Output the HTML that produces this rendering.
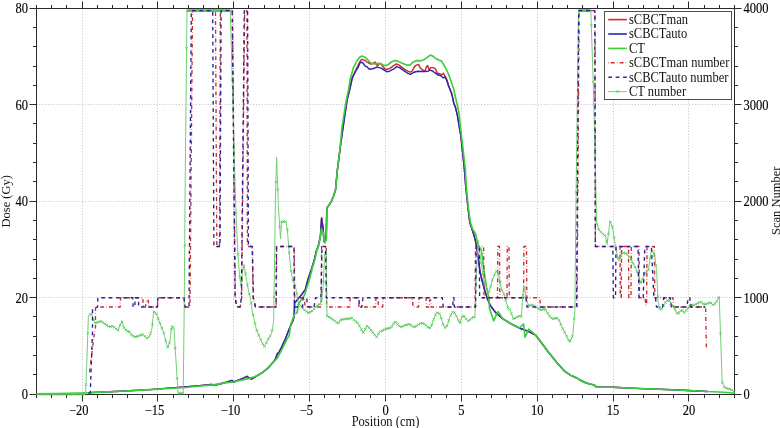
<!DOCTYPE html>
<html><head><meta charset="utf-8"><style>
html,body{margin:0;padding:0;background:#fff;width:780px;height:428px;overflow:hidden}
svg{display:block}
text{font-family:"Liberation Serif",serif;font-size:12.5px;fill:#000;stroke:#000;stroke-width:0.12px}
svg{will-change:transform}
text.lg{stroke-width:0px;fill:#111}
</style></head><body>
<svg width="780" height="428" viewBox="0 0 780 428">
<rect width="780" height="428" fill="#fff"/>
<path d="M82.5,8.5V394.5M157.5,8.5V394.5M233.5,8.5V394.5M309.5,8.5V394.5M385.5,8.5V394.5M461.5,8.5V394.5M537.5,8.5V394.5M613.5,8.5V394.5M688.5,8.5V394.5M36.5,297.5H734.5M36.5,201.5H734.5M36.5,104.5H734.5" stroke="#c2c2c2" stroke-width="1" stroke-dasharray="1 1.85" fill="none"/>
<path d="M36.5,8.5H734.5V394.5H36.5Z" stroke="#2a2a2a" stroke-width="1.0" fill="none"/>
<path d="M36.5,394.5V398.0M36.5,8.5V5.0M51.5,394.5V398.0M51.5,8.5V5.0M66.5,394.5V398.0M66.5,8.5V5.0M82.5,394.5V401.5M82.5,8.5V1.5M97.5,394.5V398.0M97.5,8.5V5.0M112.5,394.5V398.0M112.5,8.5V5.0M127.5,394.5V398.0M127.5,8.5V5.0M142.5,394.5V398.0M142.5,8.5V5.0M157.5,394.5V401.5M157.5,8.5V1.5M173.5,394.5V398.0M173.5,8.5V5.0M188.5,394.5V398.0M188.5,8.5V5.0M203.5,394.5V398.0M203.5,8.5V5.0M218.5,394.5V398.0M218.5,8.5V5.0M233.5,394.5V401.5M233.5,8.5V1.5M248.5,394.5V398.0M248.5,8.5V5.0M264.5,394.5V398.0M264.5,8.5V5.0M279.5,394.5V398.0M279.5,8.5V5.0M294.5,394.5V398.0M294.5,8.5V5.0M309.5,394.5V401.5M309.5,8.5V1.5M324.5,394.5V398.0M324.5,8.5V5.0M339.5,394.5V398.0M339.5,8.5V5.0M355.5,394.5V398.0M355.5,8.5V5.0M370.5,394.5V398.0M370.5,8.5V5.0M385.5,394.5V401.5M385.5,8.5V1.5M400.5,394.5V398.0M400.5,8.5V5.0M415.5,394.5V398.0M415.5,8.5V5.0M431.5,394.5V398.0M431.5,8.5V5.0M446.5,394.5V398.0M446.5,8.5V5.0M461.5,394.5V401.5M461.5,8.5V1.5M476.5,394.5V398.0M476.5,8.5V5.0M491.5,394.5V398.0M491.5,8.5V5.0M506.5,394.5V398.0M506.5,8.5V5.0M522.5,394.5V398.0M522.5,8.5V5.0M537.5,394.5V401.5M537.5,8.5V1.5M552.5,394.5V398.0M552.5,8.5V5.0M567.5,394.5V398.0M567.5,8.5V5.0M582.5,394.5V398.0M582.5,8.5V5.0M597.5,394.5V398.0M597.5,8.5V5.0M613.5,394.5V401.5M613.5,8.5V1.5M628.5,394.5V398.0M628.5,8.5V5.0M643.5,394.5V398.0M643.5,8.5V5.0M658.5,394.5V398.0M658.5,8.5V5.0M673.5,394.5V398.0M673.5,8.5V5.0M688.5,394.5V401.5M688.5,8.5V1.5M704.5,394.5V398.0M704.5,8.5V5.0M719.5,394.5V398.0M719.5,8.5V5.0M734.5,394.5V398.0M734.5,8.5V5.0M36.5,394.5H29.5M734.5,394.5H741.5M36.5,374.5H33.0M734.5,374.5H738.0M36.5,355.5H33.0M734.5,355.5H738.0M36.5,336.5H33.0M734.5,336.5H738.0M36.5,316.5H33.0M734.5,316.5H738.0M36.5,297.5H29.5M734.5,297.5H741.5M36.5,278.5H33.0M734.5,278.5H738.0M36.5,259.5H33.0M734.5,259.5H738.0M36.5,239.5H33.0M734.5,239.5H738.0M36.5,220.5H33.0M734.5,220.5H738.0M36.5,201.5H29.5M734.5,201.5H741.5M36.5,181.5H33.0M734.5,181.5H738.0M36.5,162.5H33.0M734.5,162.5H738.0M36.5,143.5H33.0M734.5,143.5H738.0M36.5,123.5H33.0M734.5,123.5H738.0M36.5,104.5H29.5M734.5,104.5H741.5M36.5,85.5H33.0M734.5,85.5H738.0M36.5,66.5H33.0M734.5,66.5H738.0M36.5,46.5H33.0M734.5,46.5H738.0M36.5,27.5H33.0M734.5,27.5H738.0M36.5,8.5H29.5M734.5,8.5H741.5" stroke="#2a2a2a" stroke-width="1" fill="none"/>
<g fill="none" stroke-linejoin="round" stroke-linecap="butt">
<polyline points="88.0,392.7 90.0,392.6 120.0,391.2 150.0,389.6 190.5,386.4 199.5,385.6 211.1,384.4 215.6,385.0 226.4,382.2 231.8,380.4 233.6,382.0 243.5,378.1 247.0,376.3 248.8,377.7 251.5,379.2 256.0,376.3 262.3,372.7 268.4,367.6 275.1,360.0 277.4,353.6 278.8,352.7 281.6,347.1 285.4,338.7 289.1,329.3 291.9,322.8 293.3,320.0 294.3,313.0 294.6,303.1 297.7,299.3 301.6,294.6 305.4,289.3 307.8,280.0 311.7,268.5 314.8,258.2 316.2,251.4 318.5,245.3 320.5,235.3 321.6,218.0 323.2,229.0 323.9,241.4 325.1,242.6 326.2,237.6 326.8,208.0 328.8,205.4 331.4,201.3 333.5,196.2 335.5,190.0 337.3,170.6 339.9,150.0 343.3,125.7 347.1,100.0 349.8,89.0 352.3,77.9 355.4,70.7 358.5,64.5 360.6,60.4 362.1,59.4 364.7,60.4 367.8,62.5 370.8,64.0 372.9,63.5 375.0,62.0 376.0,64.0 377.5,66.1 379.1,63.5 381.1,64.0 383.2,67.1 385.2,69.2 387.8,69.2 390.4,68.1 393.5,65.6 396.6,64.0 399.1,65.1 401.7,67.1 405.8,70.2 409.9,72.2 412.1,71.2 414.1,67.1 416.2,65.1 418.7,64.5 420.3,68.1 422.3,69.7 424.9,71.2 426.5,66.6 427.7,65.6 429.0,69.7 431.1,67.6 433.7,67.6 435.7,69.2 437.2,73.3 439.8,73.8 441.9,74.8 443.4,73.3 445.0,75.8 447.0,80.0 448.3,85.0 451.9,94.3 453.9,103.5 455.5,107.6 457.5,115.8 459.6,129.0 460.8,135.3 462.4,150.7 464.0,165.0 465.7,185.6 467.8,206.1 469.8,222.6 471.9,228.8 473.9,234.9 476.0,243.1 477.1,250.6 478.7,260.8 480.0,272.0 483.0,284.0 485.5,293.0 487.5,299.0 490.6,306.0 495.7,312.6 502.9,318.8 511.1,323.9 519.4,328.0 527.6,331.1 535.8,335.2 542.0,343.5 548.1,351.7 556.4,362.0 564.6,371.2 570.8,375.3 576.9,378.0 580.0,380.0 586.2,383.0 594.4,385.1 596.5,387.1 612.9,387.3 641.7,388.6 672.5,389.8 703.4,391.2 707.4,391.5" stroke="#d42a2a" stroke-width="1.45"/>
<polyline points="88.0,392.7 90.0,392.6 120.0,391.2 150.0,389.6 190.5,386.4 199.5,385.6 211.1,384.4 215.6,385.0 226.4,382.2 231.8,380.4 233.6,382.0 243.5,378.1 247.0,376.3 248.8,377.7 251.5,379.2 256.0,376.3 262.3,372.7 268.4,367.6 275.1,360.0 277.4,353.6 278.8,352.7 281.6,347.1 285.4,338.7 289.1,329.3 291.9,322.8 293.3,320.0 294.3,313.0 294.6,303.1 297.7,299.3 301.6,294.6 305.4,289.3 307.8,280.0 311.7,268.5 314.8,258.2 316.2,251.4 318.5,245.3 320.5,235.3 321.6,218.0 323.2,229.0 323.9,241.4 325.1,242.6 326.2,237.6 326.8,208.0 328.8,205.4 331.4,201.3 333.5,196.2 335.5,190.0 337.3,170.6 339.9,150.0 343.3,125.7 347.1,100.0 349.8,89.0 352.3,77.9 355.4,71.7 358.0,67.6 360.1,62.5 362.1,62.3 363.7,64.0 365.2,66.1 366.7,66.6 369.3,69.2 372.9,68.7 377.0,67.1 381.1,68.1 384.2,70.2 386.8,71.7 389.4,71.2 393.5,69.2 396.6,66.6 399.6,67.6 403.8,70.7 407.9,73.3 410.4,74.3 414.0,72.2 418.1,71.2 420.3,71.5 424.4,71.5 428.0,71.2 430.1,70.2 432.6,71.2 435.7,73.3 437.8,74.8 440.8,75.8 443.4,77.9 445.0,76.9 447.0,81.0 448.3,85.0 451.9,94.3 453.9,103.5 455.5,107.6 457.5,115.8 459.6,129.0 460.8,135.3 462.4,150.7 464.0,165.0 465.7,185.6 467.8,206.1 469.8,222.6 471.9,228.8 473.9,234.9 476.0,243.1 477.1,250.6 478.7,260.8 480.0,272.0 483.0,284.0 485.5,293.0 487.5,299.0 490.6,306.0 495.7,312.6 502.9,318.8 511.1,323.9 519.4,328.0 527.6,331.1 535.8,335.2 542.0,343.5 548.1,351.7 556.4,362.0 564.6,371.2 570.8,375.3 576.9,378.0 580.0,380.0 586.2,383.0 594.4,385.1 596.5,387.1 612.9,387.3 641.7,388.6 672.5,389.8 703.4,391.2 707.4,391.5" stroke="#2828b0" stroke-width="1.45"/>
<polyline points="36.5,393.9 60.0,393.5 88.0,392.7 90.0,392.6 120.0,391.2 150.0,389.6 186.0,387.5 195.0,386.5 213.0,384.9 226.4,382.6 232.7,382.2 239.9,380.4 248.8,378.6 256.0,376.3 262.3,372.7 268.4,367.6 273.0,362.5 277.0,358.5 280.7,351.8 284.4,344.3 287.2,338.7 289.1,335.9 290.0,330.3 290.5,324.7 291.9,321.4 294.5,314.0 297.0,313.0 298.5,303.9 301.6,299.3 304.7,294.6 309.3,280.0 312.2,268.5 315.2,258.2 316.6,251.4 318.8,245.3 320.5,236.0 321.3,229.0 323.3,233.0 324.1,241.4 325.2,242.6 326.4,237.6 327.1,208.0 328.8,205.4 331.4,201.3 333.5,196.2 335.5,190.0 337.3,170.6 339.9,150.0 341.9,128.0 346.0,101.7 348.7,89.0 350.3,78.9 353.4,67.6 356.5,61.5 359.5,57.3 362.1,56.1 364.7,57.1 367.8,59.9 370.8,63.0 373.9,64.0 377.0,63.3 380.1,63.5 383.2,65.1 385.2,65.6 388.3,64.5 391.4,62.0 395.0,60.4 398.6,61.5 402.7,63.5 406.8,65.1 409.9,65.1 413.1,62.0 417.2,60.4 420.3,60.9 424.4,59.4 428.0,56.8 430.6,55.1 433.1,56.3 435.7,58.4 438.8,59.9 441.4,60.9 443.9,65.1 446.5,69.7 449.1,75.8 451.6,83.0 453.7,89.0 455.0,95.3 457.0,103.5 459.1,113.8 460.6,129.0 462.0,140.0 463.2,150.7 465.3,169.0 466.2,185.6 468.2,206.0 470.3,222.0 472.5,229.0 475.6,234.0 478.0,245.0 481.3,250.0 483.6,267.5 486.5,287.4 488.9,297.9 489.5,308.5 493.7,320.8 497.8,311.6 502.9,318.8 511.1,323.9 519.4,328.0 523.5,324.0 525.1,337.3 528.6,329.1 535.8,335.2 542.0,343.5 548.1,351.7 556.4,362.0 564.6,371.2 570.8,375.3 576.9,378.0 580.0,380.0 586.2,383.0 594.4,385.1 596.5,387.1 612.9,387.3 641.7,388.6 672.5,389.8 703.4,391.2 707.4,391.5 724.0,392.3 734.5,393.3" stroke="#3cce3c" stroke-width="1.65"/>
<polyline points="89.5,372.3 94.2,334.6 95.5,328.0 95.5,307.0 120.2,307.0 120.5,297.7 142.6,297.7 143.6,307.0 145.5,307.0 146.0,300.5 148.3,300.5 148.8,307.0 157.5,307.0 157.8,297.7 184.0,297.7 185.0,307.0 190.0,307.0 192.5,10.6 215.5,10.6 216.8,246.5 219.5,246.5 220.3,10.6 232.4,10.6 235.3,298.0 237.0,307.0 240.2,307.0 241.6,298.0 244.6,10.6 246.9,10.6 247.4,246.5 252.2,246.5 253.2,298.0 255.4,307.0 276.2,307.0 276.7,246.5 294.2,246.5 294.7,297.7 304.5,297.7 305.0,307.0 321.3,307.0 321.6,246.5 326.2,246.5 326.6,307.0 349.8,307.0 350.1,297.7 358.5,297.7 359.0,307.0 375.5,307.0 376.0,297.7 378.0,297.7 378.5,307.0 382.7,307.0 383.2,297.7 412.5,297.7 413.0,307.0 418.5,307.0 419.0,297.7 426.0,297.7 426.5,307.0 429.0,307.0 429.6,300.0 430.6,300.0 431.2,307.0 442.0,307.0 475.0,307.0 475.5,246.5 483.6,246.5 484.0,297.7 497.5,297.7 497.8,246.5 499.5,246.5 499.8,297.7 507.0,297.7 507.3,246.5 509.0,246.5 509.3,297.7 523.6,297.7 523.9,246.5 526.5,246.5 526.8,297.7 540.0,297.7 540.3,307.0 577.0,307.0 579.2,10.6 595.0,10.6 595.4,246.5 620.0,246.5 620.3,297.7 621.3,297.7 621.6,246.5 628.5,246.5 628.8,297.7 631.0,297.7 631.3,246.5 639.0,246.5 639.5,297.7 645.2,297.7 645.6,305.0 646.6,305.0 647.0,246.5 654.3,246.5 654.8,297.7 662.7,297.7 663.2,297.7 673.0,297.7 673.5,307.0 705.6,307.0 706.4,349.0" stroke="#c62c34" stroke-width="1.35" stroke-dasharray="3.9 2.2 0.5 2.2"/>
<path d="M186.5,10.6H230.4M578.5,10.6H590.8" stroke="#3cce3c" stroke-width="2.6"/>
<polyline points="36.5,394.2 85.5,394.2 86.8,362.8 88.4,315.7 91.1,313.1 94.7,322.9 97.0,322.6 100.7,321.1 104.8,323.7 108.9,326.7 113.0,326.2 116.1,328.8 118.2,330.3 120.2,324.7 122.3,321.1 123.3,326.7 126.4,330.8 129.5,331.9 132.0,335.5 135.6,337.0 139.8,335.5 142.8,334.4 147.0,338.6 150.0,335.0 152.1,327.8 153.6,311.3 155.2,312.3 156.5,314.1 159.6,322.3 163.7,332.6 165.7,340.8 167.8,348.0 169.8,341.9 171.9,325.4 174.0,328.5 175.0,345.0 177.0,376.8 178.1,393.3 183.2,393.3 184.2,310.0 185.2,180.6 187.0,10.6 230.3,10.6 234.7,170.7 236.0,213.0 237.9,254.0 239.5,275.0 241.0,285.7 242.5,272.0 244.0,264.6 246.6,280.5 248.7,291.8 250.7,299.0 252.0,310.0 256.1,328.5 260.2,338.8 264.3,347.0 268.4,338.8 271.5,333.7 273.6,322.3 274.4,272.0 275.4,200.0 276.6,157.2 278.4,205.8 279.7,227.0 280.5,239.0 281.6,221.7 285.8,221.7 287.4,230.0 288.8,248.0 290.6,268.5 292.9,280.5 295.4,286.0 298.5,303.1 301.6,307.0 305.4,310.8 308.5,313.0 312.4,310.8 316.2,306.2 320.1,303.9 321.6,299.3 323.2,286.2 324.5,255.0 326.0,252.0 327.0,315.8 330.3,317.9 334.4,320.5 338.0,323.6 340.6,320.0 344.7,318.9 348.8,318.9 351.9,317.9 355.0,321.0 358.0,323.0 360.1,327.2 363.2,332.9 367.3,325.7 371.4,330.8 376.6,337.0 379.6,331.9 385.8,328.8 391.0,327.8 395.0,321.5 398.1,325.1 401.2,327.2 405.3,325.1 409.4,324.1 413.5,327.2 416.6,326.1 419.7,323.6 422.8,323.0 425.8,325.1 428.9,328.2 431.0,327.2 433.0,321.0 436.1,313.3 438.2,312.2 440.2,314.8 441.8,320.0 443.3,325.1 445.4,328.2 447.4,325.1 449.5,317.9 451.6,313.3 453.6,311.2 455.7,314.8 457.7,318.9 459.8,323.6 461.8,316.9 463.9,315.8 466.0,318.9 468.0,321.0 471.1,318.9 473.1,316.9 475.0,317.9 475.8,290.0 477.0,260.0 478.1,240.3 481.0,262.0 484.0,280.0 487.0,290.0 489.0,292.0 490.0,288.6 493.0,278.0 495.9,271.6 497.6,271.0 499.4,279.2 501.7,289.7 504.0,294.4 506.2,301.7 508.0,308.5 510.3,310.0 513.2,318.8 515.4,318.1 519.4,315.7 521.4,316.7 522.5,300.0 523.7,286.3 524.9,287.5 525.7,298.6 528.8,305.8 532.9,304.8 537.0,307.9 541.1,310.0 545.2,308.9 549.4,316.1 552.3,318.8 557.6,318.1 559.6,321.2 561.5,326.0 565.6,334.2 569.7,342.4 572.8,335.2 574.9,310.6 575.1,286.3 576.0,200.0 577.0,122.3 578.5,10.6 590.8,10.6 593.1,78.0 595.0,150.0 596.6,223.0 599.1,230.2 603.2,234.3 605.5,236.0 607.1,244.5 610.0,221.0 612.4,227.1 614.5,240.0 615.4,246.5 618.5,260.8 622.6,252.6 626.7,253.6 630.8,258.8 636.0,269.1 641.1,283.5 644.2,274.2 648.3,270.1 651.4,250.6 654.5,253.6 656.6,271.1 658.1,302.3 660.4,310.4 662.7,307.0 666.2,301.2 668.5,300.0 671.3,303.5 674.2,308.1 677.7,314.4 681.2,309.8 684.6,312.7 688.1,308.1 690.4,304.6 693.8,305.2 697.3,303.5 700.8,301.7 704.2,304.6 707.7,303.5 710.0,302.3 713.5,305.2 716.9,301.2 719.2,296.5 722.2,382.0 724.5,387.3 728.1,388.6 732.2,390.2 734.5,392.3" stroke="#6ccc6c" stroke-width="0.95"/>
<path d="M37.1,392.9L39.7,395.5M37.1,395.5L39.7,392.9M39.0,392.9L41.6,395.5M39.0,395.5L41.6,392.9M40.9,392.9L43.5,395.5M40.9,395.5L43.5,392.9M42.8,392.9L45.4,395.5M42.8,395.5L45.4,392.9M44.7,392.9L47.3,395.5M44.7,395.5L47.3,392.9M46.6,392.9L49.2,395.5M46.6,395.5L49.2,392.9M48.5,392.9L51.1,395.5M48.5,395.5L51.1,392.9M50.4,392.9L53.0,395.5M50.4,395.5L53.0,392.9M52.3,392.9L54.9,395.5M52.3,395.5L54.9,392.9M54.2,392.9L56.8,395.5M54.2,395.5L56.8,392.9M56.1,392.9L58.7,395.5M56.1,395.5L58.7,392.9M58.0,392.9L60.6,395.5M58.0,395.5L60.6,392.9M59.9,392.9L62.5,395.5M59.9,395.5L62.5,392.9M61.8,392.9L64.4,395.5M61.8,395.5L64.4,392.9M63.7,392.9L66.3,395.5M63.7,395.5L66.3,392.9M65.6,392.9L68.2,395.5M65.6,395.5L68.2,392.9M67.5,392.9L70.1,395.5M67.5,395.5L70.1,392.9M69.4,392.9L72.0,395.5M69.4,395.5L72.0,392.9M71.3,392.9L73.9,395.5M71.3,395.5L73.9,392.9M73.2,392.9L75.8,395.5M73.2,395.5L75.8,392.9M75.1,392.9L77.7,395.5M75.1,395.5L77.7,392.9M77.0,392.9L79.6,395.5M77.0,395.5L79.6,392.9M78.9,392.9L81.5,395.5M78.9,395.5L81.5,392.9M80.8,392.9L83.4,395.5M80.8,395.5L83.4,392.9M82.7,392.9L85.3,395.5M82.7,395.5L85.3,392.9M84.6,383.2L87.2,385.8M84.6,385.8L87.2,383.2M86.5,332.1L89.1,334.7M86.5,334.7L89.1,332.1M88.4,313.1L91.0,315.7M88.4,315.7L91.0,313.1M90.3,313.2L92.9,315.8M90.3,315.8L92.9,313.2M92.2,318.3L94.8,320.9M92.2,320.9L94.8,318.3M94.1,321.5L96.7,324.1M94.1,324.1L96.7,321.5M96.0,321.2L98.6,323.8M96.0,323.8L98.6,321.2M97.9,320.4L100.5,323.0M97.9,323.0L100.5,320.4M99.8,320.1L102.4,322.7M99.8,322.7L102.4,320.1M101.7,321.3L104.3,323.9M101.7,323.9L104.3,321.3M103.6,322.5L106.2,325.1M103.6,325.1L106.2,322.5M105.5,323.9L108.1,326.5M105.5,326.5L108.1,323.9M107.4,325.3L110.0,327.9M107.4,327.9L110.0,325.3M109.3,325.2L111.9,327.8M109.3,327.8L111.9,325.2M111.2,325.0L113.8,327.6M111.2,327.6L113.8,325.0M113.1,326.1L115.7,328.7M113.1,328.7L115.7,326.1M115.0,327.6L117.6,330.2M115.0,330.2L117.6,327.6M116.9,329.0L119.5,331.6M116.9,331.6L119.5,329.0M118.8,323.7L121.4,326.3M118.8,326.3L121.4,323.7M120.7,320.3L123.3,322.9M120.7,322.9L123.3,320.3M122.6,326.2L125.2,328.8M122.6,328.8L125.2,326.2M124.5,328.7L127.1,331.3M124.5,331.3L127.1,328.7M126.4,330.0L129.0,332.6M126.4,332.6L129.0,330.0M128.3,330.7L130.9,333.3M128.3,333.3L130.9,330.7M130.2,333.5L132.8,336.1M130.2,336.1L132.8,333.5M132.1,334.8L134.7,337.4M132.1,337.4L134.7,334.8M134.0,335.6L136.6,338.2M134.0,338.2L136.6,335.6M135.9,335.1L138.5,337.7M135.9,337.7L138.5,335.1M137.8,334.4L140.4,337.0M137.8,337.0L140.4,334.4M139.7,333.8L142.3,336.4M139.7,336.4L142.3,333.8M141.6,333.2L144.2,335.8M141.6,335.8L144.2,333.2M143.5,335.1L146.1,337.7M143.5,337.7L146.1,335.1M145.4,337.0L148.0,339.6M145.4,339.6L148.0,337.0M147.3,335.4L149.9,338.0M147.3,338.0L149.9,335.4M149.2,332.0L151.8,334.6M149.2,334.6L151.8,332.0M151.1,323.2L153.7,325.8M151.1,325.8L153.7,323.2M153.0,310.4L155.6,313.0M153.0,313.0L155.6,310.4M154.9,312.4L157.5,315.0M154.9,315.0L157.5,312.4M156.8,317.0L159.4,319.6M156.8,319.6L159.4,317.0M158.7,322.0L161.3,324.6M158.7,324.6L161.3,322.0M160.6,326.8L163.2,329.4M160.6,329.4L163.2,326.8M162.5,331.7L165.1,334.3M162.5,334.3L165.1,331.7M164.4,339.5L167.0,342.1M164.4,342.1L167.0,339.5M166.3,346.0L168.9,348.6M166.3,348.6L168.9,346.0M168.2,341.5L170.8,344.1M168.2,344.1L170.8,341.5M170.1,328.0L172.7,330.6M170.1,330.6L172.7,328.0M172.0,326.2L174.6,328.8M172.0,328.8L174.6,326.2M173.9,346.9L176.5,349.5M173.9,349.5L176.5,346.9M175.8,377.0L178.4,379.6M175.8,379.6L178.4,377.0M177.7,392.0L180.3,394.6M177.7,394.6L180.3,392.0M179.6,392.0L182.2,394.6M179.6,394.6L182.2,392.0M181.5,392.0L184.1,394.6M181.5,394.6L184.1,392.0M183.4,244.0L186.0,246.6M183.4,246.6L186.0,244.0M185.3,47.1L187.9,49.7M185.3,49.7L187.9,47.1M187.2,9.3L189.8,11.9M187.2,11.9L189.8,9.3M189.1,9.3L191.7,11.9M189.1,11.9L191.7,9.3M191.0,9.3L193.6,11.9M191.0,11.9L193.6,9.3M192.9,9.3L195.5,11.9M192.9,11.9L195.5,9.3M194.8,9.3L197.4,11.9M194.8,11.9L197.4,9.3M196.7,9.3L199.3,11.9M196.7,11.9L199.3,9.3M198.6,9.3L201.2,11.9M198.6,11.9L201.2,9.3M200.5,9.3L203.1,11.9M200.5,11.9L203.1,9.3M202.4,9.3L205.0,11.9M202.4,11.9L205.0,9.3M204.3,9.3L206.9,11.9M204.3,11.9L206.9,9.3M206.2,9.3L208.8,11.9M206.2,11.9L208.8,9.3M208.1,9.3L210.7,11.9M208.1,11.9L210.7,9.3M210.0,9.3L212.6,11.9M210.0,11.9L212.6,9.3M211.9,9.3L214.5,11.9M211.9,11.9L214.5,9.3M213.8,9.3L216.4,11.9M213.8,11.9L216.4,9.3M215.7,9.3L218.3,11.9M215.7,11.9L218.3,9.3M217.6,9.3L220.2,11.9M217.6,11.9L220.2,9.3M219.5,9.3L222.1,11.9M219.5,11.9L222.1,9.3M221.4,9.3L224.0,11.9M221.4,11.9L224.0,9.3M223.3,9.3L225.9,11.9M223.3,11.9L225.9,9.3M225.2,9.3L227.8,11.9M225.2,11.9L227.8,9.3M227.1,9.3L229.7,11.9M227.1,11.9L229.7,9.3M229.0,9.3L231.6,11.9M229.0,11.9L231.6,9.3M230.9,78.4L233.5,81.0M230.9,81.0L233.5,78.4M232.8,147.6L235.4,150.2M232.8,150.2L235.4,147.6M234.7,211.7L237.3,214.3M234.7,214.3L237.3,211.7M236.6,252.7L239.2,255.3M236.6,255.3L239.2,252.7M238.5,275.8L241.1,278.4M238.5,278.4L241.1,275.8M240.4,278.0L243.0,280.6M240.4,280.6L243.0,278.0M242.3,265.3L244.9,267.9M242.3,267.9L244.9,265.3M244.2,272.5L246.8,275.1M244.2,275.1L246.8,272.5M246.1,283.5L248.7,286.1M246.1,286.1L248.7,283.5M248.0,292.7L250.6,295.3M248.0,295.3L250.6,292.7M249.9,301.9L252.5,304.5M249.9,304.5L252.5,301.9M251.8,313.7L254.4,316.3M251.8,316.3L254.4,313.7M253.7,322.2L256.3,324.8M253.7,324.8L256.3,322.2M255.6,329.2L258.2,331.8M255.6,331.8L258.2,329.2M257.5,334.0L260.1,336.6M257.5,336.6L260.1,334.0M259.4,338.5L262.0,341.1M259.4,341.1L262.0,338.5M261.3,342.3L263.9,344.9M261.3,344.9L263.9,342.3M263.2,345.3L265.8,347.9M263.2,347.9L265.8,345.3M265.1,341.5L267.7,344.1M265.1,344.1L267.7,341.5M267.0,337.7L269.6,340.3M267.0,340.3L269.6,337.7M268.9,334.5L271.5,337.1M268.9,337.1L271.5,334.5M270.8,329.1L273.4,331.7M270.8,331.7L273.4,329.1M272.7,295.8L275.3,298.4M272.7,298.4L275.3,295.8M274.6,180.9L277.2,183.5M274.6,183.5L277.2,180.9M276.5,188.3L279.1,190.9M276.5,190.9L279.1,188.3M278.4,225.7L281.0,228.3M278.4,228.3L281.0,225.7M280.3,220.4L282.9,223.0M280.3,223.0L282.9,220.4M282.2,220.4L284.8,223.0M282.2,223.0L284.8,220.4M284.1,220.4L286.7,223.0M284.1,223.0L286.7,220.4M286.0,228.2L288.6,230.8M286.0,230.8L288.6,228.2M287.9,251.3L290.5,253.9M287.9,253.9L290.5,251.3M289.8,269.8L292.4,272.4M289.8,272.4L292.4,269.8M291.7,279.4L294.3,282.0M291.7,282.0L294.3,279.4M293.6,283.6L296.2,286.2M293.6,286.2L296.2,283.6M295.5,292.4L298.1,295.0M295.5,295.0L298.1,292.4M297.4,302.1L300.0,304.7M297.4,304.7L300.0,302.1M299.3,304.4L301.9,307.0M299.3,307.0L301.9,304.4M301.2,306.6L303.8,309.2M301.2,309.2L303.8,306.6M303.1,308.5L305.7,311.1M303.1,311.1L305.7,308.5M305.0,310.1L307.6,312.7M305.0,312.7L307.6,310.1M306.9,311.5L309.5,314.1M306.9,314.1L309.5,311.5M308.8,310.8L311.4,313.4M308.8,313.4L311.4,310.8M310.7,309.7L313.3,312.3M310.7,312.3L313.3,309.7M312.6,307.7L315.2,310.3M312.6,310.3L315.2,307.7M314.5,305.4L317.1,308.0M314.5,308.0L317.1,305.4M316.4,304.0L319.0,306.6M316.4,306.6L319.0,304.0M318.3,302.9L320.9,305.5M318.3,305.5L320.9,302.9M320.2,298.3L322.8,300.9M320.2,300.9L322.8,298.3M322.1,280.1L324.7,282.7M322.1,282.7L324.7,280.1M324.0,252.1L326.6,254.7M324.0,254.7L326.6,252.1M325.9,314.6L328.5,317.2M325.9,317.2L328.5,314.6M327.8,315.8L330.4,318.4M327.8,318.4L330.4,315.8M329.7,317.0L332.3,319.6M329.7,319.6L332.3,317.0M331.6,318.2L334.2,320.8M331.6,320.8L334.2,318.2M333.5,319.5L336.1,322.1M333.5,322.1L336.1,319.5M335.4,321.2L338.0,323.8M335.4,323.8L338.0,321.2M337.3,321.5L339.9,324.1M337.3,324.1L339.9,321.5M339.2,318.8L341.8,321.4M339.2,321.4L341.8,318.8M341.1,318.2L343.7,320.8M341.1,320.8L343.7,318.2M343.0,317.7L345.6,320.3M343.0,320.3L345.6,317.7M344.9,317.6L347.5,320.2M344.9,320.2L347.5,317.6M346.8,317.6L349.4,320.2M346.8,320.2L349.4,317.6M348.7,317.2L351.3,319.8M348.7,319.8L351.3,317.2M350.6,316.6L353.2,319.2M350.6,319.2L353.2,316.6M352.5,318.5L355.1,321.1M352.5,321.1L355.1,318.5M354.4,320.2L357.0,322.8M354.4,322.8L357.0,320.2M356.3,321.4L358.9,324.0M356.3,324.0L358.9,321.4M358.2,324.7L360.8,327.3M358.2,327.3L360.8,324.7M360.1,328.3L362.7,330.9M360.1,330.9L362.7,328.3M362.0,331.4L364.6,334.0M362.0,334.0L364.6,331.4M363.9,328.1L366.5,330.7M363.9,330.7L366.5,328.1M365.8,324.8L368.4,327.4M365.8,327.4L368.4,324.8M367.7,326.5L370.3,329.1M367.7,329.1L370.3,326.5M369.6,328.9L372.2,331.5M369.6,331.5L372.2,328.9M371.5,331.2L374.1,333.8M371.5,333.8L374.1,331.2M373.4,333.4L376.0,336.0M373.4,336.0L376.0,333.4M375.3,335.7L377.9,338.3M375.3,338.3L377.9,335.7M377.2,332.5L379.8,335.1M377.2,335.1L379.8,332.5M379.1,330.2L381.7,332.8M379.1,332.8L381.7,330.2M381.0,329.3L383.6,331.9M381.0,331.9L383.6,329.3M382.9,328.3L385.5,330.9M382.9,330.9L385.5,328.3M384.8,327.4L387.4,330.0M384.8,330.0L387.4,327.4M386.7,327.1L389.3,329.7M386.7,329.7L389.3,327.1M388.6,326.7L391.2,329.3M388.6,329.3L391.2,326.7M390.5,325.2L393.1,327.8M390.5,327.8L393.1,325.2M392.4,322.2L395.0,324.8M392.4,324.8L395.0,322.2M394.3,320.9L396.9,323.5M394.3,323.5L396.9,320.9M396.2,323.1L398.8,325.7M396.2,325.7L398.8,323.1M398.1,324.7L400.7,327.3M398.1,327.3L400.7,324.7M400.0,325.8L402.6,328.4M400.0,328.4L402.6,325.8M401.9,324.9L404.5,327.5M401.9,327.5L404.5,324.9M403.8,323.9L406.4,326.5M403.8,326.5L406.4,323.9M405.7,323.4L408.3,326.0M405.7,326.0L408.3,323.4M407.6,322.9L410.2,325.5M407.6,325.5L410.2,322.9M409.5,323.9L412.1,326.5M409.5,326.5L412.1,323.9M411.4,325.3L414.0,327.9M411.4,327.9L414.0,325.3M413.3,325.5L415.9,328.1M413.3,328.1L415.9,325.5M415.2,324.8L417.8,327.4M415.2,327.4L417.8,324.8M417.1,323.3L419.7,325.9M417.1,325.9L419.7,323.3M419.0,322.2L421.6,324.8M419.0,324.8L421.6,322.2M420.9,321.8L423.5,324.4M420.9,324.4L423.5,321.8M422.8,322.6L425.4,325.2M422.8,325.2L425.4,322.6M424.7,324.0L427.3,326.6M424.7,326.6L427.3,324.0M426.6,325.9L429.2,328.5M426.6,328.5L429.2,325.9M428.5,326.5L431.1,329.1M428.5,329.1L431.1,326.5M430.4,323.7L433.0,326.3M430.4,326.3L433.0,323.7M432.3,318.2L434.9,320.8M432.3,320.8L434.9,318.2M434.2,313.5L436.8,316.1M434.2,316.1L436.8,313.5M436.1,311.3L438.7,313.9M436.1,313.9L438.7,311.3M438.0,312.3L440.6,314.9M438.0,314.9L440.6,312.3M439.9,316.7L442.5,319.3M439.9,319.3L442.5,316.7M441.8,323.1L444.4,325.7M441.8,325.7L444.4,323.1M443.7,326.3L446.3,328.9M443.7,328.9L446.3,326.3M445.6,324.6L448.2,327.2M445.6,327.2L448.2,324.6M447.5,319.0L450.1,321.6M447.5,321.6L450.1,319.0M449.4,314.0L452.0,316.6M449.4,316.6L452.0,314.0M451.3,311.0L453.9,313.6M451.3,313.6L453.9,311.0M453.2,311.4L455.8,314.0M453.2,314.0L455.8,311.4M455.1,314.9L457.7,317.5M455.1,317.5L457.7,314.9M457.0,318.9L459.6,321.5M457.0,321.5L459.6,318.9M458.9,321.0L461.5,323.6M458.9,323.6L461.5,321.0M460.8,315.4L463.4,318.0M460.8,318.0L463.4,315.4M462.7,314.6L465.3,317.2M462.7,317.2L465.3,314.6M464.6,317.5L467.2,320.1M464.6,320.1L467.2,317.5M466.5,319.5L469.1,322.1M466.5,322.1L469.1,319.5M468.4,318.5L471.0,321.1M468.4,321.1L471.0,318.5M470.3,317.1L472.9,319.7M470.3,319.7L472.9,317.1M472.2,315.8L474.8,318.4M472.2,318.4L474.8,315.8M474.1,302.7L476.7,305.3M474.1,305.3L476.7,302.7M476.0,253.3L478.6,255.9M476.0,255.9L478.6,253.3M477.9,247.2L480.5,249.8M477.9,249.8L480.5,247.2M479.8,261.3L482.4,263.9M479.8,263.9L482.4,261.3M481.7,272.7L484.3,275.3M481.7,275.3L484.3,272.7M483.6,281.7L486.2,284.3M483.6,284.3L486.2,281.7M485.5,288.0L488.1,290.6M485.5,290.6L488.1,288.0M487.4,290.4L490.0,293.0M487.4,293.0L490.0,290.4M489.3,285.2L491.9,287.8M489.3,287.8L491.9,285.2M491.2,278.5L493.8,281.1M491.2,281.1L493.8,278.5M493.1,273.6L495.7,276.2M493.1,276.2L495.7,273.6M495.0,270.2L497.6,272.8M495.0,272.8L497.6,270.2M496.9,272.4L499.5,275.0M496.9,275.0L499.5,272.4M498.8,281.1L501.4,283.7M498.8,283.7L501.4,281.1M500.7,289.0L503.3,291.6M500.7,291.6L503.3,289.0M502.6,292.9L505.2,295.5M502.6,295.5L505.2,292.9M504.5,299.1L507.1,301.7M504.5,301.7L507.1,299.1M506.4,306.1L509.0,308.7M506.4,308.7L509.0,306.1M508.3,308.2L510.9,310.8M508.3,310.8L510.9,308.2M510.2,312.3L512.8,314.9M510.2,314.9L512.8,312.3M512.1,317.4L514.7,320.0M512.1,320.0L514.7,317.4M514.0,316.8L516.6,319.4M514.0,319.4L516.6,316.8M515.9,315.7L518.5,318.3M515.9,318.3L518.5,315.7M517.8,314.6L520.4,317.2M517.8,317.2L520.4,314.6M519.7,315.2L522.3,317.8M519.7,317.8L522.3,315.2M521.6,294.1L524.2,296.7M521.6,296.7L524.2,294.1M523.5,286.1L526.1,288.7M523.5,288.7L526.1,286.1M525.4,299.6L528.0,302.2M525.4,302.2L528.0,299.6M527.3,304.0L529.9,306.6M527.3,306.6L529.9,304.0M529.2,304.1L531.8,306.7M529.2,306.7L531.8,304.1M531.1,303.6L533.7,306.2M531.1,306.2L533.7,303.6M533.0,304.6L535.6,307.2M533.0,307.2L535.6,304.6M534.9,306.0L537.5,308.6M534.9,308.6L537.5,306.0M536.8,307.2L539.4,309.8M536.8,309.8L539.4,307.2M538.7,308.1L541.3,310.7M538.7,310.7L541.3,308.1M540.6,308.5L543.2,311.1M540.6,311.1L543.2,308.5M542.5,308.0L545.1,310.6M542.5,310.6L545.1,308.0M544.4,308.5L547.0,311.1M544.4,311.1L547.0,308.5M546.3,311.7L548.9,314.3M546.3,314.3L548.9,311.7M548.2,314.9L550.8,317.5M548.2,317.5L550.8,314.9M550.1,316.7L552.7,319.3M550.1,319.3L552.7,316.7M552.0,317.4L554.6,320.0M552.0,320.0L554.6,317.4M553.9,317.1L556.5,319.7M553.9,319.7L556.5,317.1M555.8,316.9L558.4,319.5M555.8,319.5L558.4,316.9M557.7,319.0L560.3,321.6M557.7,321.6L560.3,319.0M559.6,323.2L562.2,325.8M559.6,325.8L562.2,323.2M561.5,327.3L564.1,329.9M561.5,329.9L564.1,327.3M563.4,331.1L566.0,333.7M563.4,333.7L566.0,331.1M565.3,334.9L567.9,337.5M565.3,337.5L567.9,334.9M567.2,338.7L569.8,341.3M567.2,341.3L569.8,338.7M569.1,339.5L571.7,342.1M569.1,342.1L571.7,339.5M571.0,335.1L573.6,337.7M571.0,337.7L573.6,335.1M572.9,317.5L575.5,320.1M572.9,320.1L575.5,317.5M574.8,190.9L577.4,193.5M574.8,193.5L577.4,190.9M576.7,46.5L579.3,49.1M576.7,49.1L579.3,46.5M578.6,9.3L581.2,11.9M578.6,11.9L581.2,9.3M580.5,9.3L583.1,11.9M580.5,11.9L583.1,9.3M582.4,9.3L585.0,11.9M582.4,11.9L585.0,9.3M584.3,9.3L586.9,11.9M584.3,11.9L586.9,9.3M586.2,9.3L588.8,11.9M586.2,11.9L588.8,9.3M588.1,9.3L590.7,11.9M588.1,11.9L590.7,9.3M590.0,24.0L592.6,26.6M590.0,26.6L592.6,24.0M591.9,80.5L594.5,83.1M591.9,83.1L594.5,80.5M593.8,153.3L596.4,155.9M593.8,155.9L596.4,153.3M595.7,222.9L598.3,225.5M595.7,225.5L598.3,222.9M597.6,228.3L600.2,230.9M597.6,230.9L600.2,228.3M599.5,230.6L602.1,233.2M599.5,233.2L602.1,230.6M601.4,232.5L604.0,235.1M601.4,235.1L604.0,232.5M603.3,234.0L605.9,236.6M603.3,236.6L605.9,234.0M605.2,240.0L607.8,242.6M605.2,242.6L607.8,240.0M607.1,232.7L609.7,235.3M607.1,235.3L609.7,232.7M609.0,220.5L611.6,223.1M609.0,223.1L611.6,220.5M610.9,225.3L613.5,227.9M610.9,227.9L613.5,225.3M612.8,236.2L615.4,238.8M612.8,238.8L615.4,236.2M614.7,248.0L617.3,250.6M614.7,250.6L617.3,248.0M616.6,256.7L619.2,259.3M616.6,259.3L619.2,256.7M618.5,256.9L621.1,259.5M618.5,259.5L621.1,256.9M620.4,253.1L623.0,255.7M620.4,255.7L623.0,253.1M622.3,251.5L624.9,254.1M622.3,254.1L624.9,251.5M624.2,252.0L626.8,254.6M624.2,254.6L626.8,252.0M626.1,253.2L628.7,255.8M626.1,255.8L628.7,253.2M628.0,255.6L630.6,258.2M628.0,258.2L630.6,255.6M629.9,258.3L632.5,260.9M629.9,260.9L632.5,258.3M631.8,262.1L634.4,264.7M631.8,264.7L634.4,262.1M633.7,265.8L636.3,268.4M633.7,268.4L636.3,265.8M635.6,270.3L638.2,272.9M635.6,272.9L638.2,270.3M637.5,275.7L640.1,278.3M637.5,278.3L640.1,275.7M639.4,281.1L642.0,283.7M639.4,283.7L642.0,281.1M641.3,277.7L643.9,280.3M641.3,280.3L643.9,277.7M643.2,272.6L645.8,275.2M643.2,275.2L645.8,272.6M645.1,270.7L647.7,273.3M645.1,273.3L647.7,270.7M647.0,268.8L649.6,271.4M647.0,271.4L649.6,268.8M648.9,256.8L651.5,259.4M648.9,259.4L651.5,256.8M650.8,250.0L653.4,252.6M650.8,252.6L653.4,250.0M652.7,251.8L655.3,254.4M652.7,254.4L655.3,251.8M654.6,264.0L657.2,266.6M654.6,266.6L657.2,264.0M656.5,294.8L659.1,297.4M656.5,297.4L659.1,294.8M658.4,306.6L661.0,309.2M658.4,309.2L661.0,306.6M660.3,307.3L662.9,309.9M660.3,309.9L662.9,307.3M662.2,304.4L664.8,307.0M662.2,307.0L664.8,304.4M664.1,301.2L666.7,303.8M664.1,303.8L666.7,301.2M666.0,299.3L668.6,301.9M666.0,301.9L668.6,299.3M667.9,299.6L670.5,302.2M667.9,302.2L670.5,299.6M669.8,301.9L672.4,304.5M669.8,304.5L672.4,301.9M671.7,304.9L674.3,307.5M671.7,307.5L674.3,304.9M673.6,308.1L676.2,310.7M673.6,310.7L676.2,308.1M675.5,311.5L678.1,314.1M675.5,314.1L678.1,311.5M677.4,311.8L680.0,314.4M677.4,314.4L680.0,311.8M679.3,309.3L681.9,311.9M679.3,311.9L681.9,309.3M681.2,309.6L683.8,312.2M681.2,312.2L683.8,309.6M683.1,311.2L685.7,313.8M683.1,313.8L685.7,311.2M685.0,309.2L687.6,311.8M685.0,311.8L687.6,309.2M686.9,306.6L689.5,309.2M686.9,309.2L689.5,306.6M688.8,303.8L691.4,306.4M688.8,306.4L691.4,303.8M690.7,303.6L693.3,306.2M690.7,306.2L693.3,303.6M692.6,303.9L695.2,306.5M692.6,306.5L695.2,303.9M694.5,302.9L697.1,305.5M694.5,305.5L697.1,302.9M696.4,302.0L699.0,304.6M696.4,304.6L699.0,302.0M698.3,301.0L700.9,303.6M698.3,303.6L700.9,301.0M700.2,301.0L702.8,303.6M700.2,303.6L702.8,301.0M702.1,302.6L704.7,305.2M702.1,305.2L704.7,302.6M704.0,303.0L706.6,305.6M704.0,305.6L706.6,303.0M705.9,302.4L708.5,305.0M705.9,305.0L708.5,302.4M707.8,301.5L710.4,304.1M707.8,304.1L710.4,301.5M709.7,301.8L712.3,304.4M709.7,304.4L712.3,301.8M711.6,303.4L714.2,306.0M711.6,306.0L714.2,303.4M713.5,302.4L716.1,305.0M713.5,305.0L716.1,302.4M715.4,300.1L718.0,302.7M715.4,302.7L718.0,300.1M717.3,296.4L719.9,299.0M717.3,299.0L719.9,296.4M719.2,332.2L721.8,334.8M719.2,334.8L721.8,332.2M721.1,381.2L723.7,383.8M721.1,383.8L723.7,381.2M723.0,385.5L725.6,388.1M723.0,388.1L725.6,385.5M724.9,386.6L727.5,389.2M724.9,389.2L727.5,386.6M726.8,387.3L729.4,389.9M726.8,389.9L729.4,387.3M728.7,388.0L731.3,390.6M728.7,390.6L731.3,388.0M730.6,388.8L733.2,391.4M730.6,391.4L733.2,388.8M732.5,390.4L735.1,393.0M732.5,393.0L735.1,390.4" stroke="#50c450" stroke-width="0.65"/>
<polyline points="88.5,393.2 90.3,392.5 92.5,331.0 92.5,309.3 97.1,307.0 97.6,307.0 97.8,297.7 132.8,297.7 133.1,307.0 134.8,307.0 135.1,297.7 138.4,297.7 138.7,307.0 157.5,307.0 157.8,297.7 184.0,297.7 185.0,307.0 189.0,307.0 191.3,10.6 212.7,10.6 213.9,246.5 220.0,246.5 221.1,10.6 232.2,10.6 235.1,298.0 236.8,307.0 240.0,307.0 241.4,298.0 244.3,10.6 247.6,10.6 248.4,246.5 252.4,246.5 253.4,298.0 255.6,307.0 276.0,307.0 276.5,246.5 294.0,246.5 294.3,307.0 302.6,307.0 303.1,297.7 306.6,297.7 307.8,307.0 314.0,307.0 315.5,297.7 320.9,297.7 322.0,246.5 325.6,246.5 326.3,297.7 358.7,297.7 359.8,307.0 361.8,307.0 363.0,297.7 442.3,297.7 443.3,307.0 452.8,307.0 453.3,297.7 453.9,297.7 454.4,307.0 475.6,307.0 476.1,246.5 479.3,246.5 479.6,297.7 526.0,297.7 527.0,307.0 576.5,307.0 578.7,10.6 594.8,10.6 595.3,246.5 612.8,246.5 613.4,297.7 615.5,297.7 616.0,246.5 638.0,246.5 639.0,297.7 643.2,297.7 644.8,246.5 651.4,246.5 653.9,297.7 655.5,297.7 656.5,307.0 662.7,307.0 663.8,297.7 670.2,297.7 671.3,307.0 686.9,307.0 688.1,297.7 689.8,297.7 691.0,307.0 705.4,307.0" stroke="#281f96" stroke-width="1.35" stroke-dasharray="3.7 3.7"/>
</g>
<rect x="604.5" y="11.5" width="127" height="88" fill="#fff" stroke="#505050" stroke-width="1"/>
<path d="M608.2,19.6H626.8" stroke="#d42a2a" stroke-width="1.6" fill="none"/>
<text class="lg" transform="translate(629.00,23.90) scale(1,1.15)">sCBCTman</text>
<path d="M608.2,34.0H626.8" stroke="#2828b0" stroke-width="1.6" fill="none"/>
<text class="lg" transform="translate(629.00,38.30) scale(1,1.15)">sCBCTauto</text>
<path d="M608.2,48.4H626.8" stroke="#3cce3c" stroke-width="1.6" fill="none"/>
<text class="lg" transform="translate(629.00,52.70) scale(1,1.15)">CT</text>
<path d="M608.1,62.8H627" stroke="#d42a2a" stroke-width="1.5" fill="none" stroke-dasharray="3.9 2.2 0.5 2.2" stroke-dashoffset="6.1"/>
<text class="lg" transform="translate(629.00,67.10) scale(1,1.15)">sCBCTman number</text>
<path d="M608.3,77.2H627" stroke="#2828b0" stroke-width="1.5" fill="none" stroke-dasharray="3.7 3.7"/>
<text class="lg" transform="translate(629.00,81.50) scale(1,1.15)">sCBCTauto number</text>
<path d="M608,91.6H627" stroke="#6ccc6c" stroke-width="0.9" fill="none"/><path d="M616.1,90.1L619.1,93.1M616.1,93.1L619.1,90.1" stroke="#50c450" stroke-width="0.7" fill="none"/>
<text class="lg" transform="translate(629.00,95.90) scale(1,1.15)">CT number</text>
<text transform="translate(28.00,399.15) scale(1,1.15)" text-anchor="end">0</text>
<text transform="translate(28.00,302.64) scale(1,1.15)" text-anchor="end">20</text>
<text transform="translate(28.00,206.13) scale(1,1.15)" text-anchor="end">40</text>
<text transform="translate(28.00,109.62) scale(1,1.15)" text-anchor="end">60</text>
<text transform="translate(28.00,13.11) scale(1,1.15)" text-anchor="end">80</text>
<text transform="translate(743.50,399.15) scale(1,1.15)">0</text>
<text transform="translate(743.50,302.64) scale(1,1.15)">1000</text>
<text transform="translate(743.50,206.13) scale(1,1.15)">2000</text>
<text transform="translate(743.50,109.62) scale(1,1.15)">3000</text>
<text transform="translate(743.50,13.11) scale(1,1.15)">4000</text>
<text transform="translate(78.72,414.60) scale(1,1.15)" text-anchor="middle">−20</text>
<text transform="translate(154.59,414.60) scale(1,1.15)" text-anchor="middle">−15</text>
<text transform="translate(230.46,414.60) scale(1,1.15)" text-anchor="middle">−10</text>
<text transform="translate(306.33,414.60) scale(1,1.15)" text-anchor="middle">−5</text>
<text transform="translate(385.50,414.60) scale(1,1.15)" text-anchor="middle">0</text>
<text transform="translate(461.37,414.60) scale(1,1.15)" text-anchor="middle">5</text>
<text transform="translate(537.24,414.60) scale(1,1.15)" text-anchor="middle">10</text>
<text transform="translate(613.11,414.60) scale(1,1.15)" text-anchor="middle">15</text>
<text transform="translate(688.98,414.60) scale(1,1.15)" text-anchor="middle">20</text>
<text class="lg" transform="translate(385.50,425.90) scale(1,1.15)" text-anchor="middle">Position (cm)</text>
<text class="lg" transform="translate(10.3,201.3) rotate(-90)" text-anchor="middle">Dose (Gy)</text>
<text class="lg" transform="translate(780.3,200.8) rotate(-90)" text-anchor="middle">Scan Number</text>
</svg>
</body></html>
